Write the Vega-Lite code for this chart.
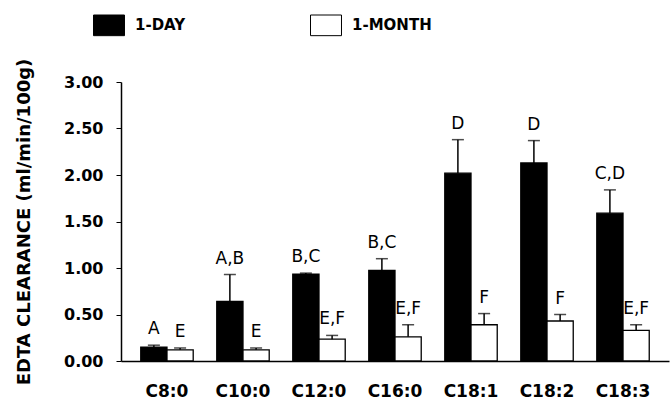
{
  "$schema": "https://vega.github.io/schema/vega-lite/v6.json",
  "width": 548,
  "height": 279,
  "autosize": {"type": "none"},
  "padding": {"left": 121, "top": 82, "right": 1, "bottom": 38},
  "background": "white",
  "config": {"view": {"stroke": null}, "font": "DejaVu Sans"},
  "data": {
    "values": [
      {"acid": "C8:0", "group": "1-DAY", "value": 0.15, "hi": 0.17, "sig": "A"},
      {"acid": "C8:0", "group": "1-MONTH", "value": 0.12, "hi": 0.14, "sig": "E"},
      {"acid": "C10:0", "group": "1-DAY", "value": 0.64, "hi": 0.93, "sig": "A,B"},
      {"acid": "C10:0", "group": "1-MONTH", "value": 0.12, "hi": 0.14, "sig": "E"},
      {"acid": "C12:0", "group": "1-DAY", "value": 0.935, "hi": 0.945, "sig": "B,C"},
      {"acid": "C12:0", "group": "1-MONTH", "value": 0.235, "hi": 0.275, "sig": "E,F"},
      {"acid": "C16:0", "group": "1-DAY", "value": 0.975, "hi": 1.1, "sig": "B,C"},
      {"acid": "C16:0", "group": "1-MONTH", "value": 0.26, "hi": 0.39, "sig": "E,F"},
      {"acid": "C18:1", "group": "1-DAY", "value": 2.02, "hi": 2.38, "sig": "D"},
      {"acid": "C18:1", "group": "1-MONTH", "value": 0.39, "hi": 0.51, "sig": "F"},
      {"acid": "C18:2", "group": "1-DAY", "value": 2.13, "hi": 2.37, "sig": "D"},
      {"acid": "C18:2", "group": "1-MONTH", "value": 0.43, "hi": 0.5, "sig": "F"},
      {"acid": "C18:3", "group": "1-DAY", "value": 1.59, "hi": 1.84, "sig": "C,D"},
      {"acid": "C18:3", "group": "1-MONTH", "value": 0.33, "hi": 0.39, "sig": "E,F"}
    ]
  },
  "encoding": {
    "x": {
      "field": "acid",
      "type": "nominal",
      "sort": ["C8:0", "C10:0", "C12:0", "C16:0", "C18:1", "C18:2", "C18:3"],
      "scale": {"paddingInner": 0.31, "paddingOuter": 0.26},
      "axis": {
        "title": null,
        "ticks": false,
        "labelAngle": 0,
        "labelFont": "DejaVu Sans",
        "labelFontWeight": "bold",
        "labelFontSize": 17,
        "labelColor": "black",
        "labelPadding": 22,
        "domainColor": "black",
        "domainWidth": 1.5
      }
    },
    "xOffset": {"field": "group", "type": "nominal", "sort": ["1-DAY", "1-MONTH"]}
  },
  "layer": [
    {
      "mark": {"type": "bar", "stroke": "black", "strokeWidth": 1.3},
      "encoding": {
        "y": {
          "field": "value",
          "type": "quantitative",
          "scale": {"domain": [0, 3], "nice": false},
          "axis": {
            "title": "EDTA CLEARANCE (ml/min/100g)",
            "values": [0, 0.5, 1, 1.5, 2, 2.5, 3],
            "format": ".2f",
            "grid": false,
            "tickSize": 5,
            "tickColor": "black",
            "domainColor": "black",
            "domainWidth": 1.5,
            "labelFont": "DejaVu Sans",
            "labelFontWeight": "bold",
            "labelFontSize": 16,
            "labelColor": "black",
            "labelPadding": 13,
            "titleFont": "DejaVu Sans",
            "titleFontWeight": "bold",
            "titleFontSize": 18,
            "titleColor": "black",
            "titlePadding": 30
          }
        },
        "color": {
          "field": "group",
          "type": "nominal",
          "scale": {"domain": ["1-DAY", "1-MONTH"], "range": ["black", "white"]},
          "legend": {
            "title": null,
            "orient": "none",
            "legendX": -23,
            "legendY": -68,
            "direction": "horizontal",
            "columns": 2,
            "columnPadding": 122,
            "symbolType": "M-1.5,-1L1.5,-1L1.5,1L-1.5,1Z",
            "symbolSize": 427,
            "symbolStrokeColor": "black",
            "symbolStrokeWidth": 1,
            "symbolOffset": 0,
            "labelOffset": 15,
            "labelFont": "DejaVu Sans",
            "labelFontWeight": "bold",
            "labelFontSize": 15,
            "labelColor": "black"
          }
        }
      }
    },
    {
      "mark": {"type": "rule", "color": "black", "strokeWidth": 1.5},
      "encoding": {
        "y": {"field": "value", "type": "quantitative"},
        "y2": {"field": "hi"}
      }
    },
    {
      "mark": {"type": "tick", "color": "black", "size": 12, "thickness": 1.5},
      "encoding": {
        "y": {"field": "hi", "type": "quantitative"}
      }
    },
    {
      "mark": {"type": "text", "baseline": "bottom", "dy": -7, "font": "DejaVu Sans", "fontSize": 17, "color": "black"},
      "encoding": {
        "y": {"field": "hi", "type": "quantitative"},
        "text": {"field": "sig"}
      }
    }
  ]
}
